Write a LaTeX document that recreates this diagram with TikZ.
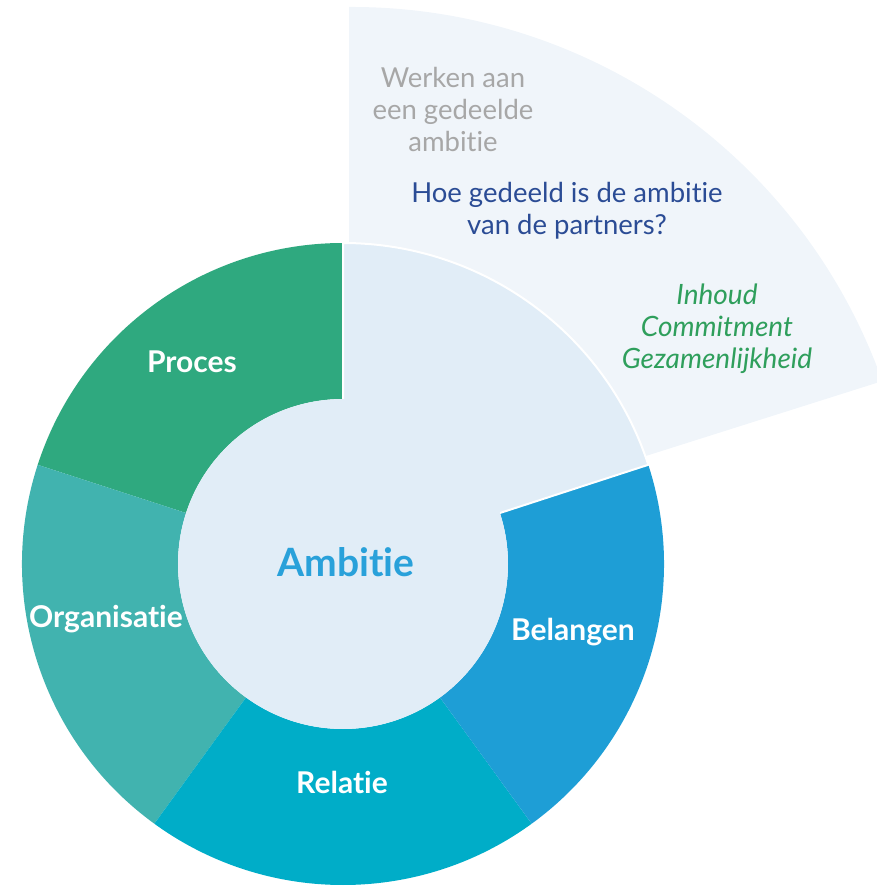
\documentclass[tikz,border=0pt]{standalone}
\usepackage{fontspec}
\setmainfont{Lato}[Ligatures={NoCommon}]

\definecolor{proces}{HTML}{2FA97F}
\definecolor{organisatie}{HTML}{41B3AF}
\definecolor{relatie}{HTML}{00ADC8}
\definecolor{belangen}{HTML}{1E9ED6}
\definecolor{ambitie}{HTML}{E1EDF7}
\definecolor{pale}{HTML}{F0F5FA}
\definecolor{ambitieblue}{HTML}{29A1DA}
\definecolor{greytext}{HTML}{A7A7A7}
\definecolor{navy}{HTML}{2B4C95}
\definecolor{leafgreen}{HTML}{2F9F5C}

\tikzset{%
    segmentlabel/.style={text=white, inner sep=0pt,
        font=\fontsize{30}{36}\selectfont\bfseries},
    infotext/.style={align=center, inner sep=0pt,
        font=\fontsize{27.5}{32}\selectfont}
}

\begin{document}
\begin{tikzpicture}[x=1pt, y=1pt]

    \useasboundingbox (-343, -322) rectangle (534, 564);
    \clip (-343, -322) rectangle (534, 564);

    % Highlighted sector behind the ring
    \fill[pale] (6, 14) -- (6, 557)
        arc[start angle=90.3, end angle=19.6, radius=563pt] -- cycle;

    % Ring segments
    \foreach \start/\col in {90/proces, 162/organisatie, 234/relatie, 306/belangen}{%
        \fill[\col] (\start:321pt)
            arc[start angle=\start, end angle=\start+72, radius=321pt]
            -- ({\start+72}:165pt)
            arc[start angle=\start+72, end angle=\start, radius=165pt] -- cycle;
    };

    \filldraw[ambitie, draw=white, line width=2pt] (0, 0) -- (18:321pt)
        arc[start angle=18, end angle=90, radius=321pt] -- cycle;

    % Centre
    \fill[ambitie] (0, 0) circle[radius=165pt];
    \node[inner sep=0pt, text=ambitieblue, font=\fontsize{39}{44}\selectfont\bfseries]
        (ambitie) at (3, 2) {Ambitie};

    % Segment labels
    \node[segmentlabel] (proces) at (-151, 202) {Proces};
    \node[segmentlabel] (organisatie) at (-237, -55) {Organisatie};
    \node[segmentlabel] (relatie) at (-1, -218) {Relatie};
    \node[segmentlabel] (belangen) at (230, -68) {Belangen};

    % Texts in the highlighted sector
    \node[infotext, text=greytext] (theme) at (110, 455)
        {Werken aan\\een gedeelde\\ambitie};
    \node[infotext, text=navy] (question) at (224, 353)
        {Hoe gedeeld is de ambitie\\van de partners?};
    \node[infotext, text=leafgreen, font=\fontsize{28}{32}\selectfont\itshape]
        (aspects) at (374, 235)
        {Inhoud\\Commitment\\Gezamenlijkheid};

\end{tikzpicture}
\end{document}
